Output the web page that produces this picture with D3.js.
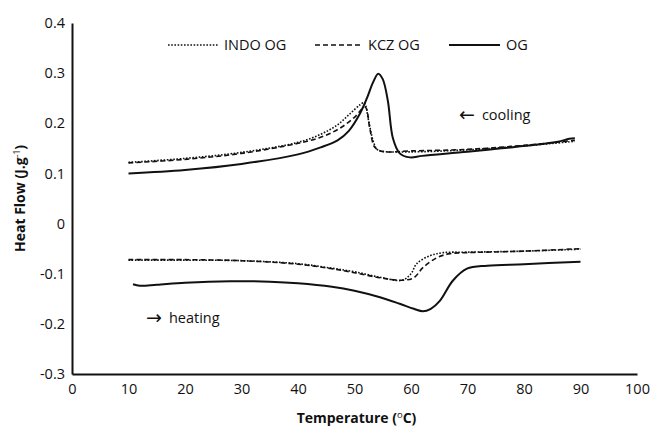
<!DOCTYPE html>
<html>
<head>
<meta charset="utf-8">
<script src="https://cdn.jsdelivr.net/npm/d3@7"></script>
<style>
  body { margin: 0; background: #fff; }
  text { font-family: "Open Sans", "Liberation Sans", sans-serif; fill: #111; }
</style>
</head>
<body>
<div id="chart"></div>
<script>
// chart size, same as the window
var W = 653, H = 427;
var margin = { top: 23, right: 16, bottom: 53, left: 72 },
  width = W - margin.left - margin.right,
  height = H - margin.top - margin.bottom;

// ticks
var xTicks = [0, 10, 20, 30, 40, 50, 60, 70, 80, 90, 100];
var yTicks = [-0.3, -0.2, -0.1, 0, 0.1, 0.2, 0.3, 0.4];

// series names
var seriesNames = ["INDO OG", "KCZ OG", "OG"];

// cooling runs (temperature, heat flow)
var indoCoolT = [10, 20, 30, 40, 44, 47, 49.2, 51, 51.7, 52.5, 53.3, 54, 55, 60, 70, 80, 89];
var indoCoolV = [0.122, 0.130, 0.142, 0.162, 0.178, 0.197, 0.219, 0.237, 0.241, 0.205, 0.165, 0.148, 0.144, 0.143, 0.147, 0.155, 0.164];

var kczCoolT = [10, 20, 30, 40, 44, 47.4, 50, 51.9, 52.7, 53.6, 54.9, 60, 70, 80, 89];
var kczCoolV = [0.121, 0.128, 0.140, 0.160, 0.172, 0.190, 0.212, 0.232, 0.190, 0.152, 0.144, 0.145, 0.148, 0.156, 0.166];

var ogCoolT = [10, 20, 30, 40, 44, 47, 49, 51, 52.2, 53.3, 54.2, 55, 55.9, 56.8, 58, 59.8, 62, 70, 76, 82, 86, 88, 89];
var ogCoolV = [0.100, 0.107, 0.119, 0.138, 0.152, 0.166, 0.185, 0.220, 0.250, 0.282, 0.299, 0.288, 0.245, 0.170, 0.140, 0.132, 0.135, 0.143, 0.150, 0.157, 0.163, 0.169, 0.170];

// heating runs
var indoHeatT = [10, 20, 30, 40, 46, 50, 54.5, 58.4, 60, 61, 63.4, 65.7, 70, 80, 90];
var indoHeatV = [-0.073, -0.073, -0.074, -0.080, -0.089, -0.096, -0.107, -0.113, -0.100, -0.080, -0.064, -0.058, -0.057, -0.055, -0.051];

var kczHeatT = [10, 20, 30, 40, 46, 50, 54.5, 58.4, 60.5, 62.1, 64.6, 66.9, 70, 80, 90];
var kczHeatV = [-0.072, -0.072, -0.074, -0.081, -0.090, -0.098, -0.108, -0.113, -0.108, -0.088, -0.068, -0.060, -0.058, -0.055, -0.050];

var ogHeatT = [10.8, 12, 15, 20, 28, 35, 40, 46, 50, 54.5, 58, 60.5, 62.1, 63.5, 65.1, 67.4, 69.9, 73.5, 80, 90];
var ogHeatV = [-0.121, -0.124, -0.122, -0.118, -0.115, -0.116, -0.119, -0.126, -0.134, -0.147, -0.160, -0.170, -0.175, -0.170, -0.154, -0.114, -0.090, -0.084, -0.081, -0.076];

// pair up temperature and value arrays
function zip(ts, vs) { return ts.map(function (t, i) { return { t: t, v: vs[i] }; }); }

var lines = [
  { data: zip(indoCoolT, indoCoolV), dash: "1.6,1.6", w: 1.6 },
  { data: zip(kczCoolT, kczCoolV), dash: "5,3", w: 1.6 },
  { data: zip(ogCoolT, ogCoolV), dash: null, w: 2 },
  { data: zip(indoHeatT, indoHeatV), dash: "1.6,1.6", w: 1.6 },
  { data: zip(kczHeatT, kczHeatV), dash: "5,3", w: 1.6 },
  { data: zip(ogHeatT, ogHeatV), dash: null, w: 2 }
];

var svg = d3.select("#chart").append("svg")
  .attr("width", W)
  .attr("height", H);

var g = svg.append("g")
  .attr("transform", "translate(" + margin.left + "," + margin.top + ")");

// scales
var x = d3.scaleLinear().domain([0, 100]).range([0, width]);
var y = d3.scaleLinear().domain([-0.3, 0.4]).range([height, 0]);

// axes, no tick marks, just the lines and labels
var xAxis = g.append("g")
  .attr("transform", "translate(0," + height + ")")
  .call(d3.axisBottom(x).tickValues(xTicks).tickSize(0).tickPadding(10).tickFormat(d3.format("d")));

// plain hyphen for negatives, like the original
var yAxis = g.append("g")
  .call(d3.axisLeft(y).tickValues(yTicks).tickSize(0).tickPadding(7)
    .tickFormat(function (d) { return Math.abs(d) < 1e-9 ? "0" : d.toFixed(1); }));

[xAxis, yAxis].forEach(function (a) {
  a.select(".domain").attr("stroke", "#111").attr("stroke-width", 2);
  a.selectAll(".tick text")
    .attr("font-size", 14.5)
    .attr("font-family", "'Open Sans', sans-serif")
    .attr("fill", "#111");
});

// curves
var line = d3.line()
  .x(function (d) { return x(d.t); })
  .y(function (d) { return y(d.v); })
  .curve(d3.curveCatmullRom.alpha(0.5));

g.selectAll(".curve")
  .data(lines)
  .enter().append("path")
  .attr("class", "curve")
  .attr("d", function (d) { return line(d.data); })
  .attr("fill", "none")
  .attr("stroke", "#111")
  .attr("stroke-width", function (d) { return d.w; })
  .attr("stroke-dasharray", function (d) { return d.dash; });

// legend
var legend = [
  { name: seriesNames[0], x0: 168, x1: 218, dash: "1.6,1.6", w: 1.6 },
  { name: seriesNames[1], x0: 315, x1: 362, dash: "5,3", w: 1.6 },
  { name: seriesNames[2], x0: 449, x1: 500, dash: null, w: 2 }
];
var lg = svg.selectAll(".legend")
  .data(legend)
  .enter().append("g")
  .attr("class", "legend");
lg.append("line")
  .attr("x1", function (d) { return d.x0; })
  .attr("x2", function (d) { return d.x1; })
  .attr("y1", 45).attr("y2", 45)
  .attr("stroke", "#111")
  .attr("stroke-width", function (d) { return d.w; })
  .attr("stroke-dasharray", function (d) { return d.dash; });
lg.append("text")
  .attr("x", function (d) { return d.x1 + 6; })
  .attr("y", 50)
  .attr("font-size", 14.5)
  .text(function (d) { return d.name; });

// annotations, arrow glyph from DejaVu drawn larger so it is full size
var cool = svg.append("text").attr("x", 459).attr("y", 120).attr("font-size", 14.5);
cool.append("tspan").attr("font-family", "'DejaVu Sans', sans-serif").attr("font-size", 19).attr("dy", 1).text("\u2190");
cool.append("tspan").attr("dx", 7).attr("dy", -1).text("cooling");
var heat = svg.append("text").attr("x", 146).attr("y", 323).attr("font-size", 14.5);
heat.append("tspan").attr("font-family", "'DejaVu Sans', sans-serif").attr("font-size", 19).attr("dy", 1).text("\u2192");
heat.append("tspan").attr("dx", 7).attr("dy", -1).text("heating");

// axis titles
var xt = svg.append("text")
  .attr("x", margin.left + width / 2 + 2)
  .attr("y", 423)
  .attr("text-anchor", "middle")
  .attr("font-size", 14)
  .attr("font-weight", "bold");
xt.append("tspan").text("Temperature (");
xt.append("tspan").attr("dy", -5).attr("font-size", 9.5).attr("font-weight", "normal").text("o");
xt.append("tspan").attr("dy", 5).text("C)");

var yt = svg.append("text")
  .attr("transform", "translate(25," + (margin.top + height / 2) + ") rotate(-90)")
  .attr("text-anchor", "middle")
  .attr("font-size", 14)
  .attr("font-weight", "bold");
yt.append("tspan").text("Heat Flow (J.g");
yt.append("tspan").attr("dy", -5).attr("font-size", 8.5).attr("font-weight", "normal").text("-1");
yt.append("tspan").attr("dy", 5).text(")");
</script>
</body>
</html>
